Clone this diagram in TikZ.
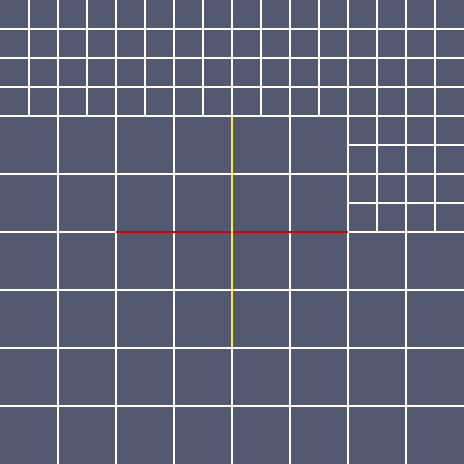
\documentclass[tikz,border=0pt]{standalone}
\usepackage{tikz}
\definecolor{cellfill}{RGB}{82,89,112}
\definecolor{crossred}{RGB}{220,0,0}
\definecolor{crossyellow}{RGB}{255,240,40}
\tikzset{
  gridline/.style={draw=white, line width=0.5pt},
  redarm/.style={draw=crossred, line width=0.5pt},
  yellowarm/.style={draw=crossyellow, line width=0.5pt}
}

\begin{document}
\begin{tikzpicture}[x=0.5cm, y=0.5cm]
  \useasboundingbox (0,0) rectangle (16,16);
  \fill[cellfill] (0,0) rectangle (16,16);
  % fine cells along the top band
  \foreach \y in {12,13,14,15}
    \draw[gridline] (0,\y) -- (16,\y);
  \foreach \x in {1,...,15}
    \draw[gridline] (\x,12) -- (\x,16);
  % coarse cells below
  \foreach \y in {2,4,6,8,10}
    \draw[gridline] (0,\y) -- (16,\y);
  \foreach \x in {2,4,...,14}
    \draw[gridline] (\x,0) -- (\x,12);
  % fine block on the right
  \foreach \y in {9,11}
    \draw[gridline] (12,\y) -- (16,\y);
  \foreach \x in {13,15}
    \draw[gridline] (\x,8) -- (\x,12);
  % cross in the middle
  \draw[redarm] (4,8) -- (12,8);
  \draw[yellowarm] (8,4) -- (8,12);
\end{tikzpicture}
\end{document}
